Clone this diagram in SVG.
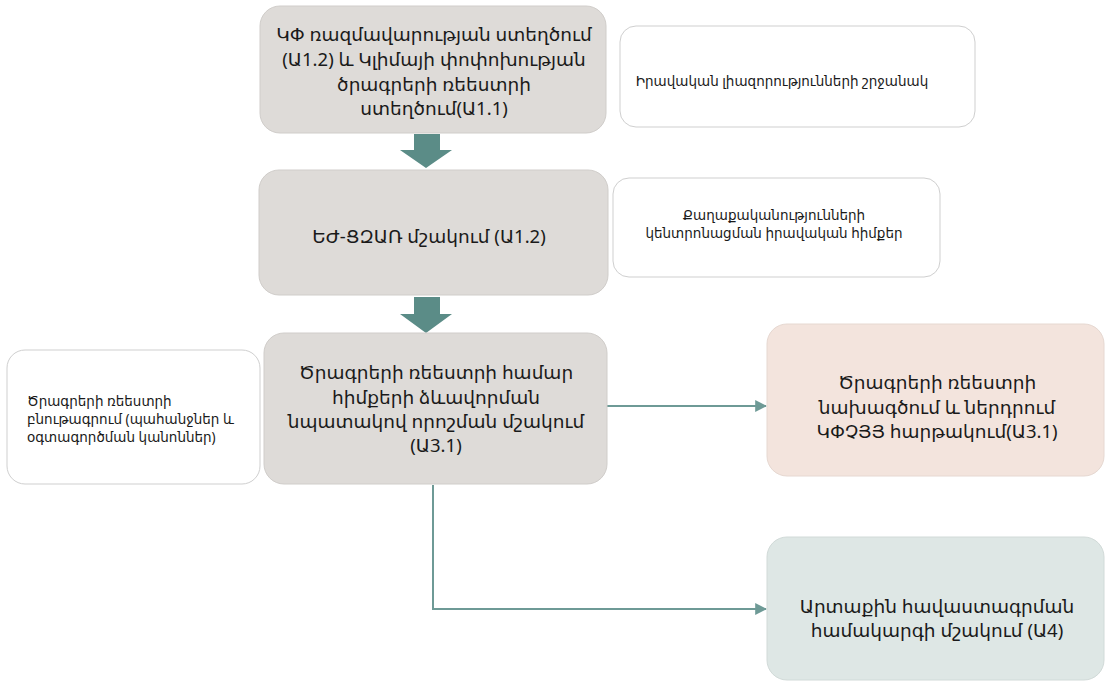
<svg xmlns="http://www.w3.org/2000/svg" width="1105" height="683" viewBox="0 0 1105 683">
  <defs>
    <style>
      .step { fill: #dedbd8; stroke: #d0cdca; stroke-width: 1; }
      .note { fill: #ffffff; stroke: #cfcfcf; stroke-width: 1; }
      .out1 { fill: #f3e4dd; stroke: #e6d8d1; stroke-width: 1; }
      .out2 { fill: #dee7e5; stroke: #d1dad8; stroke-width: 1; }
      .big { font-family: "Noto Sans", "DejaVu Sans", sans-serif; font-size: 18.5px; fill: #1a1a1a; text-anchor: middle; }
      .small { font-family: "Noto Sans", "DejaVu Sans", sans-serif; font-size: 13.5px; fill: #1a1a1a; text-anchor: middle; }
      .smallL { font-family: "Noto Sans", "DejaVu Sans", sans-serif; font-size: 13.5px; fill: #1a1a1a; }
      .flow { fill: #5b8c87; }
      .link { fill: none; stroke: #6e9a96; stroke-width: 2; }
    </style>
    <marker id="tip" viewBox="0 0 10 10" refX="9" refY="5" markerWidth="6" markerHeight="6" orient="auto" markerUnits="strokeWidth">
      <path d="M0,0 L10,5 L0,10 z" fill="#6e9a96"/>
    </marker>
  </defs>

  <rect width="1105" height="683" fill="#ffffff"/>

  <!-- block arrows between the main steps and the side connectors -->
  <g id="connectors">
    <path class="flow" d="M414,134 H440 V150 H452 L426,168 L400,150 H414 Z"/>
    <path class="flow" d="M414,297 H440 V314 H452 L426,333 L400,314 H414 Z"/>
    <path class="link" d="M607,406 H766" marker-end="url(#tip)"/>
    <path class="link" d="M433,485 V609 H766" marker-end="url(#tip)"/>
  </g>

  <g id="step1">
    <rect class="step" x="260" y="6" width="346" height="127" rx="20"/>
    <text class="big" x="434" y="41">ԿՓ ռազմավարության ստեղծում</text>
    <text class="big" x="434" y="66">(Ա1.2) և Կլիմայի փոփոխության</text>
    <text class="big" x="434" y="91">ծրագրերի ռեեստրի</text>
    <text class="big" x="434" y="115">ստեղծում(Ա1.1)</text>
  </g>

  <g id="note1">
    <rect class="note" x="620" y="26" width="355" height="101" rx="16"/>
    <text class="small" x="782" y="86">Իրավական լիազորությունների շրջանակ</text>
  </g>

  <g id="step2">
    <rect class="step" x="259" y="170" width="349" height="125" rx="20"/>
    <text class="big" x="429" y="243">ԵԺ-ՑԶԱՌ մշակում (Ա1.2)</text>
  </g>

  <g id="note2">
    <rect class="note" x="613" y="178" width="327" height="99" rx="16"/>
    <text class="small" x="774" y="220">Քաղաքականությունների</text>
    <text class="small" x="774" y="238">կենտրոնացման իրավական հիմքեր</text>
  </g>

  <g id="note3">
    <rect class="note" x="7" y="350" width="253" height="134" rx="18"/>
    <text class="smallL" x="27" y="406">Ծրագրերի ռեեստրի</text>
    <text class="smallL" x="27" y="424">բնութագրում (պահանջներ և</text>
    <text class="smallL" x="27" y="442">օգտագործման կանոններ)</text>
  </g>

  <g id="step3">
    <rect class="step" x="264" y="333" width="343" height="151" rx="20"/>
    <text class="big" x="436" y="379">Ծրագրերի ռեեստրի համար</text>
    <text class="big" x="436" y="404">հիմքերի ձևավորման</text>
    <text class="big" x="436" y="428">նպատակով որոշման մշակում</text>
    <text class="big" x="436" y="452">(Ա3.1)</text>
  </g>

  <g id="result1">
    <rect class="out1" x="767" y="324" width="337" height="152" rx="20"/>
    <text class="big" x="937" y="389">Ծրագրերի ռեեստրի</text>
    <text class="big" x="937" y="414">նախագծում և ներդրում</text>
    <text class="big" x="937" y="438">ԿՓՉՅՅ հարթակում(Ա3.1)</text>
  </g>

  <g id="result2">
    <rect class="out2" x="767" y="537" width="337" height="143" rx="20"/>
    <text class="big" x="937" y="613">Արտաքին հավաստագրման</text>
    <text class="big" x="937" y="637">համակարգի մշակում (Ա4)</text>
  </g>
</svg>
